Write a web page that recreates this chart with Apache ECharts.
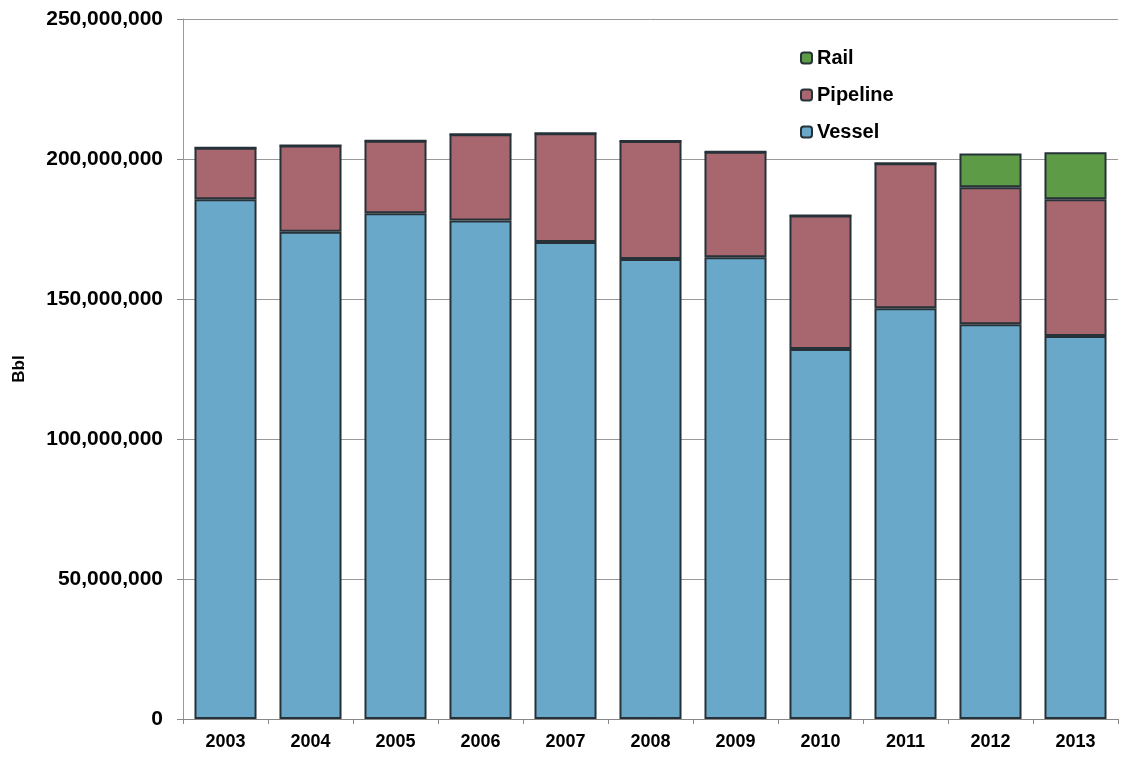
<!DOCTYPE html>
<html>
<head>
<meta charset="utf-8">
<script src="https://cdn.jsdelivr.net/npm/echarts@6/dist/echarts.min.js"></script>
<style>
html,body{margin:0;padding:0;background:#fff;}
#main{width:1125px;height:762px;}
</style>
</head>
<body>
<div id="main"></div>
<script>
var years = ['2003','2004','2005','2006','2007','2008','2009','2010','2011','2012','2013'];
var vessel = [185.6e6,174.0e6,180.6e6,178.0e6,170.4e6,164.3e6,164.9e6,132.1e6,146.7e6,141.0e6,136.8e6];
var pipeline = [18.4e6,30.8e6,25.9e6,30.8e6,38.8e6,42.1e6,37.7e6,47.7e6,51.8e6,48.9e6,48.8e6];
var rail = [0,0,0,0,0,0,0,0,0,12.1e6,16.8e6];

var chart = echarts.init(document.getElementById('main'));

var barBorder = {borderColor:'#263238', borderWidth:2};

option = {
	backgroundColor:'#fff',
	animation:false,
	textStyle:{fontFamily:'Liberation Sans', fontWeight:'bold', color:'#000'},
	legend: {
		data:['Rail','Pipeline','Vessel'],
		orient:'vertical',
		left:795,
		top:43,
		itemWidth:11,
		itemHeight:11,
		itemGap:17,
		icon:'roundRect',
		textStyle:{fontSize:20, fontWeight:'bold', color:'#000', lineHeight:20}
	},
	grid: {
		left:183,
		right:7,
		top:19,
		bottom:43
	},
	xAxis: {
		type:'category',
		data:years,
		axisLine:{lineStyle:{color:'#888'}},
		axisTick:{show:true, length:5, lineStyle:{color:'#888'}},
		axisLabel:{fontSize:18, fontWeight:'bold', color:'#000', margin:14}
	},
	yAxis: {
		type:'value',
		min:0,
		max:250000000,
		interval:50000000,
		name:'Bbl',
		nameLocation:'middle',
		nameGap:155,
		nameTextStyle:{fontSize:17, fontWeight:'bold', color:'#000'},
		axisLine:{show:true, lineStyle:{color:'#999'}},
		axisTick:{show:true, length:6, lineStyle:{color:'#888'}},
		splitLine:{lineStyle:{color:'#999', width:1}},
		axisLabel:{
			fontSize:21, fontWeight:'bold', color:'#000', margin:20,
			formatter:function(v){ return v.toLocaleString('en-US'); }
		}
	},
	series: [
		{name:'Vessel', type:'bar', stack:'t', data:vessel, barWidth:'73%',
			itemStyle:Object.assign({color:'#6aa8ca'}, barBorder)},
		{name:'Pipeline', type:'bar', stack:'t', data:pipeline,
			itemStyle:Object.assign({color:'#a8676f'}, barBorder)},
		{name:'Rail', type:'bar', stack:'t', data:rail,
			itemStyle:Object.assign({color:'#5e9b47'}, barBorder)}
	]
};
chart.setOption(option);
</script>
</body>
</html>
